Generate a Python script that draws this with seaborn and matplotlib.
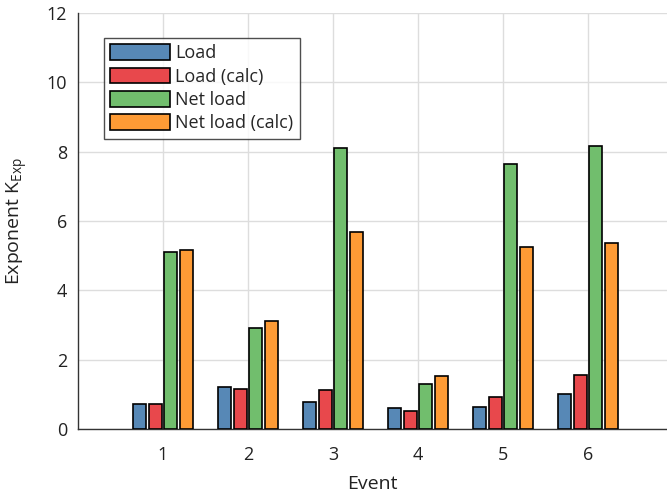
import matplotlib
matplotlib.use("Agg")
import matplotlib.pyplot as plt
import seaborn as sns
import pandas as pd

events = ["1", "2", "3", "4", "5", "6"]
series = ["Load", "Load (calc)", "Net load", "Net load (calc)"]
load = [0.72, 1.22, 0.78, 0.61, 0.63, 1.01]
load_calc = [0.71, 1.15, 1.13, 0.51, 0.93, 1.55]
net_load = [5.09, 2.91, 8.10, 1.29, 7.64, 8.15]
net_load_calc = [5.17, 3.11, 5.67, 1.54, 5.26, 5.35]
colors = ["#5788b6", "#e8484c", "#71be6d", "#fe9b35"]

rows = []
for name, vals in zip(series, [load, load_calc, net_load, net_load_calc]):
    for e, v in zip(events, vals):
        rows.append({"Event": e, "Series": name, "Value": v})
df = pd.DataFrame(rows)

sns.set_style("white")
plt.rcParams["font.family"] = ["Open Sans", "DejaVu Sans"]

fig = plt.figure(figsize=(6.67, 4.93), dpi=100)
ax = fig.add_axes([0.117, 0.130, 0.883, 0.844])

sns.barplot(data=df, x="Event", y="Value", hue="Series", order=events,
            hue_order=series, palette=colors, saturation=1, width=0.73, gap=0.18,
            edgecolor="black", linewidth=1.2, ax=ax, errorbar=None, zorder=3)

ax.set_ylim(0, 12)
ax.set_xlim(-1, 5.93)
ax.set_yticks(range(0, 13, 2))
ax.grid(True, color="#dddddd", linewidth=1.0, zorder=0)
ax.set_axisbelow(True)
for s in ["top", "right"]:
    ax.spines[s].set_visible(False)
for s in ["left", "bottom"]:
    ax.spines[s].set_color("#333333")
    ax.spines[s].set_linewidth(1.0)
ax.tick_params(axis="both", direction="in", length=5, color="#333333",
               labelsize=13, labelcolor="#222222")
ax.tick_params(axis="x", pad=12)
ax.tick_params(axis="y", pad=8)
ax.set_xlabel("Event", fontsize=14, color="#222222", labelpad=8)
ax.set_ylabel("Exponent K$_{\\mathregular{Exp}}$", fontsize=14, color="#222222", labelpad=12)

leg = ax.legend(loc="upper left", bbox_to_anchor=(0.044, 0.94), borderaxespad=0,
                fontsize=13, frameon=True, fancybox=False, edgecolor="#222222",
                handlelength=3.3, handleheight=0.95, labelspacing=0.3,
                handletextpad=0.3, borderpad=0.35, title=None)
leg.get_frame().set_linewidth(1.0)

fig.savefig("out.png", dpi=100)
